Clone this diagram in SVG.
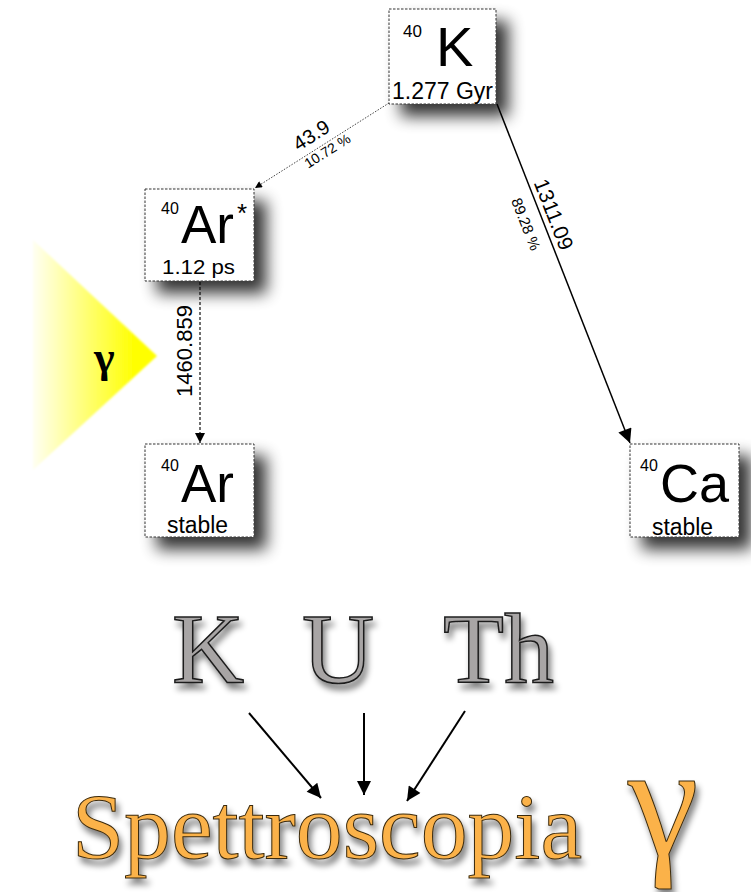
<svg xmlns="http://www.w3.org/2000/svg" width="751" height="892" viewBox="0 0 751 892">
<style>
.box{fill:#fff;stroke:#333;stroke-width:1;stroke-dasharray:2.5 1.5}
.sans{font-family:"Liberation Sans",Arial,sans-serif;fill:#000}
.big{fill:#a8a5a5;stroke:#1a1a1a;stroke-width:1.5;font-family:"Liberation Serif","Times New Roman",serif}
.org{fill:#fbb24a;stroke:#3b2a0e;stroke-width:1;font-family:"Liberation Serif","Times New Roman",serif}
</style>
<defs>
<filter id="bs" x="-40%" y="-40%" width="190%" height="190%">
<feGaussianBlur in="SourceAlpha" stdDeviation="8"/>
<feOffset dx="12" dy="12"/>
<feComponentTransfer><feFuncA type="linear" slope="0.8"/></feComponentTransfer>
<feMerge><feMergeNode/><feMergeNode in="SourceGraphic"/></feMerge>
</filter>
<filter id="ts" x="-20%" y="-20%" width="140%" height="150%">
<feGaussianBlur in="SourceAlpha" stdDeviation="3"/>
<feOffset dx="3" dy="6"/>
<feComponentTransfer><feFuncA type="linear" slope="0.5"/></feComponentTransfer>
<feMerge><feMergeNode/><feMergeNode in="SourceGraphic"/></feMerge>
</filter>
<filter id="soft"><feGaussianBlur stdDeviation="1.2"/></filter>
<linearGradient id="yg" gradientUnits="userSpaceOnUse" x1="33" y1="0" x2="135" y2="0">
<stop offset="0" stop-color="#fffff2"/>
<stop offset="1" stop-color="#ffff00"/>
</linearGradient>
<marker id="ahS" viewBox="0 0 10 10" refX="10" refY="5" markerUnits="userSpaceOnUse" markerWidth="9" markerHeight="7" orient="auto"><path d="M0,0 L10,5 L0,10 z" fill="#000"/></marker>
<marker id="ahM" viewBox="0 0 10 10" refX="10" refY="5" markerUnits="userSpaceOnUse" markerWidth="14" markerHeight="10" orient="auto"><path d="M0,0 L10,5 L0,10 z" fill="#000"/></marker>
<marker id="ahL" viewBox="0 0 10 10" refX="10" refY="5" markerUnits="userSpaceOnUse" markerWidth="22" markerHeight="14" orient="auto"><path d="M0,0 L10,5 L0,10 z" fill="#000"/></marker>
</defs>

<rect width="751" height="892" fill="#fff"/>

<g id="gamma-triangle">
<polygon points="33,240 157,356 33,470" fill="url(#yg)" filter="url(#soft)"/>
<text x="94" y="372" font-family="Liberation Serif,serif" font-size="44" font-weight="bold" fill="#000">γ</text>
</g>

<g id="connectors">
<line x1="389" y1="103" x2="255" y2="188" stroke="#444" stroke-width="1" stroke-dasharray="1.5 1.5" marker-end="url(#ahS)"/>
<line x1="497" y1="104" x2="630" y2="443" stroke="#000" stroke-width="1.5" marker-end="url(#ahL)"/>
<line x1="200" y1="282" x2="200" y2="443" stroke="#222" stroke-width="1.3" stroke-dasharray="3 2" marker-end="url(#ahM)"/>
<text class="sans" font-size="20" text-anchor="middle" transform="translate(315,141) rotate(-32.3)">43.9</text>
<text class="sans" font-size="14" text-anchor="middle" transform="translate(330,155) rotate(-32.3)">10.72 %</text>
<text class="sans" font-size="21" text-anchor="middle" transform="translate(547,217) rotate(68.6)">1311.09</text>
<text class="sans" font-size="15" text-anchor="middle" transform="translate(521,226) rotate(68.6)">89.28 %</text>
<text class="sans" font-size="22" text-anchor="middle" transform="translate(192,351) rotate(-90)">1460.859</text>
<line x1="249" y1="713" x2="321" y2="798" stroke="#000" stroke-width="2" marker-end="url(#ahL)"/>
<line x1="364" y1="713" x2="364" y2="795" stroke="#000" stroke-width="2" marker-end="url(#ahL)"/>
<line x1="465" y1="711" x2="407" y2="801" stroke="#000" stroke-width="2" marker-end="url(#ahL)"/>
</g>

<g id="K40">
<rect class="box" x="389" y="9" width="107" height="95" filter="url(#bs)"/>
<text class="sans" x="403" y="37" font-size="17">40</text>
<text class="sans" x="436" y="66" font-size="56">K</text>
<text class="sans" x="392" y="99" font-size="23" textLength="101" lengthAdjust="spacingAndGlyphs">1.277 Gyr</text>
</g>

<g id="Ar40star">
<rect class="box" x="145" y="189" width="109" height="92" filter="url(#bs)"/>
<text class="sans" x="161" y="214" font-size="16">40</text>
<text class="sans" x="181" y="243" font-size="53">Ar</text>
<text class="sans" x="237" y="222" font-size="26">*</text>
<text class="sans" x="162" y="274" font-size="21" textLength="73" lengthAdjust="spacingAndGlyphs">1.12 ps</text>
</g>

<g id="Ar40">
<rect class="box" x="145" y="444" width="109" height="93" filter="url(#bs)"/>
<text class="sans" x="161" y="471" font-size="16">40</text>
<text class="sans" x="181" y="502" font-size="53">Ar</text>
<text class="sans" x="167" y="533" font-size="23" textLength="61" lengthAdjust="spacingAndGlyphs">stable</text>
</g>

<g id="Ca40">
<rect class="box" x="630" y="444" width="109" height="93" filter="url(#bs)"/>
<text class="sans" x="640" y="471" font-size="16">40</text>
<text class="sans" x="660" y="502" font-size="54">Ca</text>
<text class="sans" x="652" y="535" font-size="23" textLength="61" lengthAdjust="spacingAndGlyphs">stable</text>
</g>

<g id="KUTh" filter="url(#ts)">
<text class="big" x="172" y="682" font-size="100">K</text>
<text class="big" x="302" y="682" font-size="100">U</text>
<text class="big" x="443" y="682" font-size="100">Th</text>
</g>

<g id="spettroscopia" filter="url(#ts)">
<text class="org" x="72" y="858" font-size="94" textLength="510" lengthAdjust="spacingAndGlyphs">Spettroscopia</text>
<text class="org" x="628" y="855" font-size="160">γ</text>
</g>
</svg>
